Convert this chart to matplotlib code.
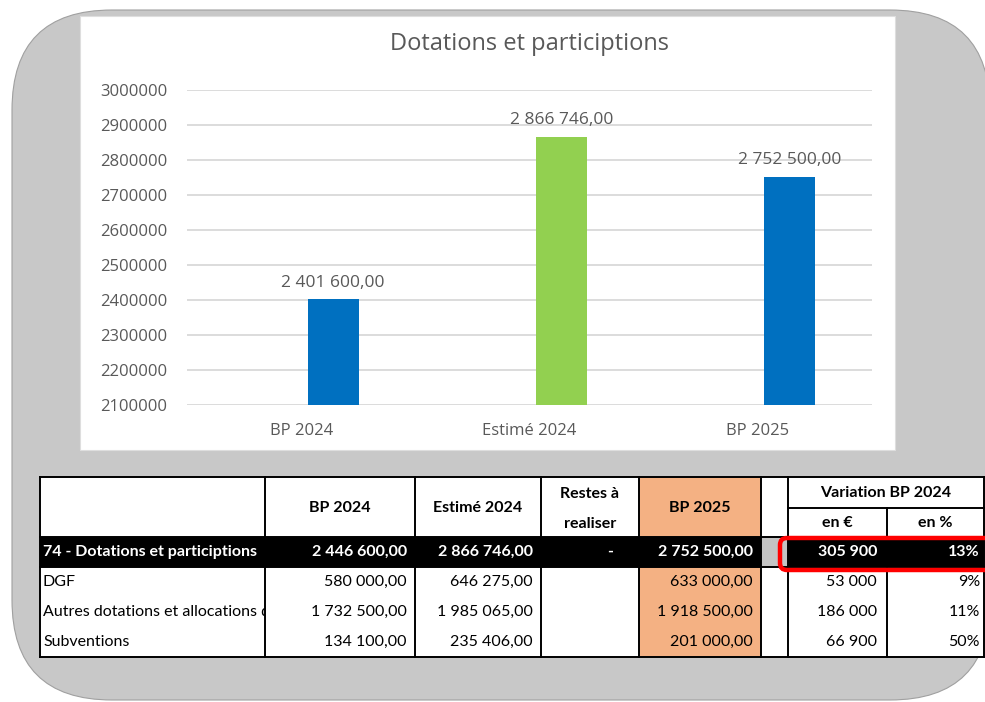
import matplotlib
matplotlib.use("Agg")
import matplotlib.pyplot as plt
from matplotlib.patches import FancyBboxPatch, Rectangle
import numpy as np

# données du graphique
categories = ["BP 2024", "Estimé 2024", "BP 2025"]
values = [2401600, 2866746, 2752500]
bar_colors = ["#0070C0", "#92D050", "#0070C0"]
y_ticks = list(range(2100000, 3000001, 100000))
title = "Dotations et participtions"

# données du tableau
row_labels = ["74 - Dotations et participtions", "DGF",
              "Autres dotations et allocations d", "Subventions"]
bp2024 = [2446600, 580000, 1732500, 134100]
estime2024 = [2866746, 646275, 1985065, 235406]
restes = ["-", "", "", ""]
bp2025 = [2752500, 633000, 1918500, 201000]
var_eur = [305900, 53000, 186000, 66900]
var_pct = [13, 9, 11, 50]


def fr(v, dec=2):
    s = f"{v:,.{dec}f}"
    return s.replace(",", " ").replace(".", ",")


CHART_FONT = ["Open Sans", "DejaVu Sans"]
TABLE_FONT = ["Lato", "DejaVu Sans"]
GREY_TXT = "#595959"
TFS = 11.5  # taille police tableau

fig = plt.figure(figsize=(9.85, 7.02), dpi=100)
bg = fig.add_axes([0, 0, 1, 1])
bg.set_xlim(0, 985)
bg.set_ylim(702, 0)
bg.axis("off")

# cadre gris arrondi + panneau blanc du graphique
bg.add_patch(FancyBboxPatch((12, 10), 978, 690, boxstyle="round,pad=0,rounding_size=100",
                            fc="#c8c8c8", ec="#a0a0a0", lw=0.8, zorder=0))
bg.add_patch(Rectangle((80, 16), 815, 434, fc="white", ec="#dedede", lw=0.8, zorder=1))
bg.text(529, 44, title, ha="center", va="center", fontsize=17, color=GREY_TXT,
        family=CHART_FONT, zorder=2)

# graphique en barres
ax = fig.add_axes([187 / 985, 1 - 405 / 702, (872 - 187) / 985, (405 - 90) / 702])
ax.set_facecolor("none")
x = np.arange(len(categories))
offset = 0.14
ax.bar(x + offset, values, width=0.223, color=bar_colors, zorder=3)
for xi, v in zip(x, values):
    ax.annotate(fr(v), (xi + offset, v), xytext=(0, 6), textcoords="offset points",
                ha="center", va="bottom", fontsize=12.5, color=GREY_TXT, family=CHART_FONT)
ax.set_xlim(-0.5, 2.5)
ax.set_ylim(2100000, 3000000)
ax.set_yticks(y_ticks)
ax.set_yticklabels([str(t) for t in y_ticks])
ax.set_xticks(x)
ax.set_xticklabels(categories)
ax.yaxis.grid(True, color="#d9d9d9", lw=1.3)
ax.set_axisbelow(True)
for s in ax.spines.values():
    s.set_visible(False)
ax.tick_params(axis="y", length=0, pad=14, labelsize=12, labelcolor=GREY_TXT)
ax.tick_params(axis="x", length=0, pad=13, labelsize=12, labelcolor=GREY_TXT)
for lab in ax.get_xticklabels() + ax.get_yticklabels():
    lab.set_family(CHART_FONT)

# tableau
col_x = [40, 265, 415, 541, 639, 761, 788, 887, 984]
row_y = [477, 537, 567, 597, 627, 657]
sub_y = 508  # ligne sous "Variation BP 2024"
left, right, top, bottom = col_x[0], col_x[-1], row_y[0], row_y[-1]
Z = 3
bg.add_patch(Rectangle((left, top), right - left, bottom - top, fc="white", ec="none", zorder=Z))
bg.add_patch(Rectangle((col_x[4], top), col_x[5] - col_x[4], bottom - top, fc="#F4B183",
                       ec="none", zorder=Z))
bg.add_patch(Rectangle((col_x[5], row_y[1]), col_x[6] - col_x[5], row_y[2] - row_y[1],
                       fc="#c4c4c4", ec="none", zorder=Z))
bg.add_patch(Rectangle((left, row_y[1]), col_x[5] - left, row_y[2] - row_y[1], fc="black",
                       ec="none", zorder=Z))
bg.add_patch(Rectangle((col_x[6], row_y[1]), right - col_x[6], row_y[2] - row_y[1],
                       fc="black", ec="none", zorder=Z))

# cache de la colonne BP 2024 : coupe les libellés trop longs de la 1re colonne
bg.add_patch(Rectangle((col_x[1], row_y[2]), col_x[2] - col_x[1], bottom - row_y[2],
                       fc="white", ec="none", zorder=Z + 0.6))
bg.add_patch(Rectangle((col_x[1], row_y[1]), col_x[2] - col_x[1], row_y[2] - row_y[1],
                       fc="black", ec="none", zorder=Z + 0.6))

for cx in col_x:
    y0 = sub_y if cx == col_x[7] else top
    bg.plot([cx, cx], [y0, bottom], color="black", lw=1.4, zorder=Z + 1)
for ry in [row_y[0], row_y[1], row_y[2], row_y[-1]]:
    bg.plot([left, right], [ry, ry], color="black", lw=1.4, zorder=Z + 1)
bg.plot([col_x[6], right], [sub_y, sub_y], color="black", lw=1.4, zorder=Z + 1)

tkw = dict(family=TABLE_FONT, fontsize=TFS, zorder=Z + 2)
hdr_y = 508
bg.text((col_x[1] + col_x[2]) / 2, hdr_y, "BP 2024", ha="center", va="center", weight="bold", **tkw)
bg.text((col_x[2] + col_x[3]) / 2, hdr_y, "Estimé 2024", ha="center", va="center", weight="bold", **tkw)
bg.text((col_x[3] + col_x[4]) / 2, 494, "Restes à", ha="center", va="center", weight="bold", **tkw)
bg.text((col_x[3] + col_x[4]) / 2, 524, "realiser", ha="center", va="center", weight="bold", **tkw)
bg.text((col_x[4] + col_x[5]) / 2, hdr_y, "BP 2025", ha="center", va="center", weight="bold", **tkw)
bg.text((col_x[6] + col_x[8]) / 2, 493, "Variation BP 2024", ha="center", va="center", weight="bold", **tkw)
bg.text((col_x[6] + col_x[7]) / 2, 523, "en €", ha="center", va="center", weight="bold", **tkw)
bg.text((col_x[7] + col_x[8]) / 2, 523, "en %", ha="center", va="center", weight="bold", **tkw)

for i in range(len(row_labels)):
    yc = (row_y[i + 1] + row_y[i + 2]) / 2
    first = i == 0
    col = "white" if first else "black"
    wt = "bold" if first else "normal"
    bg.text(col_x[0] + 3, yc, row_labels[i], ha="left", va="center", color=col, weight=wt,
            family=TABLE_FONT, fontsize=TFS, zorder=Z + 0.5)
    bg.text(col_x[2] - 8, yc, fr(bp2024[i]), ha="right", va="center", color=col, weight=wt, **tkw)
    bg.text(col_x[3] - 8, yc, fr(estime2024[i]), ha="right", va="center", color=col, weight=wt, **tkw)
    bg.text(610, yc, restes[i], ha="center", va="center", color=col, weight=wt, **tkw)
    bg.text(col_x[5] - 8, yc, fr(bp2025[i]), ha="right", va="center", color=col, weight=wt, **tkw)
    bg.text(col_x[7] - 10, yc, fr(var_eur[i], 0), ha="right", va="center", color=col, weight=wt, **tkw)
    bg.text(col_x[8] - 4, yc, f"{var_pct[i]}%", ha="right", va="center", color=col, weight=wt, **tkw)

# encadré rouge sur la variation totale
bg.add_patch(FancyBboxPatch((780, 538), 240, 32, boxstyle="round,pad=0,rounding_size=7",
                            fill=False, ec="#ff0000", lw=3.2, zorder=Z + 3))

fig.savefig("out.png", dpi=100)
